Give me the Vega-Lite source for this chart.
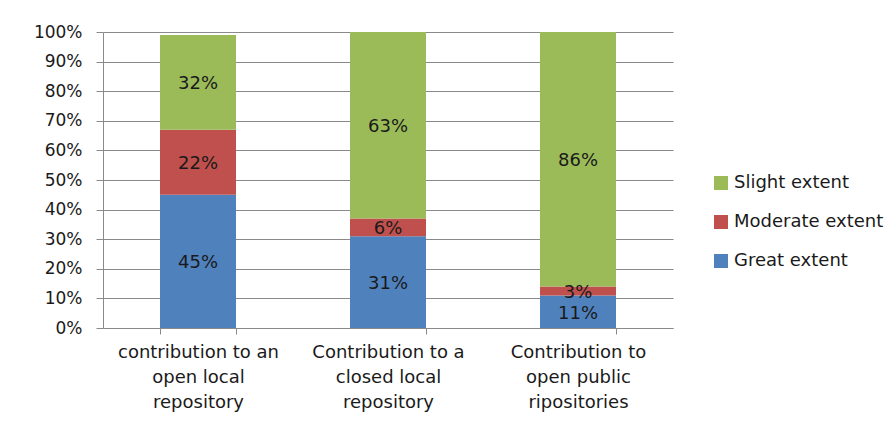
{
  "$schema": "https://vega.github.io/schema/vega-lite/v6.json",
  "width": 570,
  "height": 296,
  "autosize": {"type": "none"},
  "padding": {"left": 103, "top": 32, "right": 218, "bottom": 100},
  "background": "white",
  "config": {"view": {"stroke": null}, "font": "DejaVu Sans"},
  "data": {
    "values": [
      {"category": "contribution to an open local repository", "extent": "Great extent", "order": 1, "value": 0.45},
      {"category": "contribution to an open local repository", "extent": "Moderate extent", "order": 2, "value": 0.22},
      {"category": "contribution to an open local repository", "extent": "Slight extent", "order": 3, "value": 0.32},
      {"category": "Contribution to a closed local repository", "extent": "Great extent", "order": 1, "value": 0.31},
      {"category": "Contribution to a closed local repository", "extent": "Moderate extent", "order": 2, "value": 0.06},
      {"category": "Contribution to a closed local repository", "extent": "Slight extent", "order": 3, "value": 0.63},
      {"category": "Contribution to open public ripositories", "extent": "Great extent", "order": 1, "value": 0.11},
      {"category": "Contribution to open public ripositories", "extent": "Moderate extent", "order": 2, "value": 0.03},
      {"category": "Contribution to open public ripositories", "extent": "Slight extent", "order": 3, "value": 0.86}
    ]
  },
  "transform": [
    {"stack": "value", "groupby": ["category"], "sort": [{"field": "order"}], "as": ["y0", "y1"]}
  ],
  "encoding": {
    "x": {
      "field": "category",
      "type": "nominal",
      "sort": ["contribution to an open local repository", "Contribution to a closed local repository", "Contribution to open public ripositories"],
      "scale": {"paddingInner": 0.6, "paddingOuter": 0.3},
      "axis": {
        "title": null,
        "labelAngle": 0,
        "labelExpr": "datum.value == 'contribution to an open local repository' ? ['contribution to an', 'open local', 'repository'] : datum.value == 'Contribution to a closed local repository' ? ['Contribution to a', 'closed local', 'repository'] : datum.value == 'Contribution to open public ripositories' ? ['Contribution to', 'open public', 'ripositories'] : ''",
        "labelFontSize": 18,
        "labelColor": "#1a1a1a",
        "labelLineHeight": 25,
        "labelPadding": 9,
        "labelLimit": 0,
        "tickBand": "extent",
        "tickSize": 6,
        "tickColor": "#8a8a8a",
        "domainColor": "#8a8a8a",
        "grid": false
      }
    }
  },
  "layer": [
    {
      "mark": {"type": "bar"},
      "encoding": {
        "y": {
          "field": "y0",
          "type": "quantitative",
          "scale": {"domain": [0, 1], "nice": false},
          "axis": {
            "title": null,
            "values": [0, 0.1, 0.2, 0.3, 0.4, 0.5, 0.6, 0.7, 0.8, 0.9, 1],
            "format": ".0%",
            "labelOverlap": false,
            "labelFontSize": 17,
            "labelColor": "#1a1a1a",
            "labelPadding": 14,
            "tickSize": 7,
            "tickColor": "#8a8a8a",
            "domainColor": "#8a8a8a",
            "gridColor": "#8a8a8a",
            "grid": true
          }
        },
        "y2": {"field": "y1"},
        "color": {
          "field": "extent",
          "type": "nominal",
          "scale": {
            "domain": ["Slight extent", "Moderate extent", "Great extent"],
            "range": ["#9BBB59", "#C0504D", "#4F81BD"]
          },
          "legend": {
            "title": null,
            "orient": "none",
            "legendX": 609,
            "legendY": 142,
            "symbolType": "square",
            "symbolSize": 196,
            "symbolStrokeWidth": 0,
            "labelFontSize": 18,
            "labelColor": "#1a1a1a",
            "labelOffset": 4,
            "rowPadding": 21
          }
        }
      }
    },
    {
      "transform": [
        {"fold": ["y0", "y1"], "as": ["edge", "pos"]},
        {"aggregate": [{"op": "mean", "field": "pos", "as": "mid"}], "groupby": ["category", "extent", "value"]}
      ],
      "mark": {"type": "text", "fontSize": 18, "color": "#1a1a1a", "baseline": "middle", "dy": 2},
      "encoding": {
        "y": {
          "field": "mid",
          "type": "quantitative",
          "scale": {"domain": [0, 1], "nice": false},
          "axis": {
            "title": null,
            "values": [0, 0.1, 0.2, 0.3, 0.4, 0.5, 0.6, 0.7, 0.8, 0.9, 1],
            "format": ".0%",
            "labelOverlap": false,
            "labelFontSize": 17,
            "labelColor": "#1a1a1a",
            "labelPadding": 14,
            "tickSize": 7,
            "tickColor": "#8a8a8a",
            "domainColor": "#8a8a8a",
            "gridColor": "#8a8a8a",
            "grid": true
          }
        },
        "text": {"field": "value", "type": "quantitative", "format": ".0%"}
      }
    }
  ]
}
